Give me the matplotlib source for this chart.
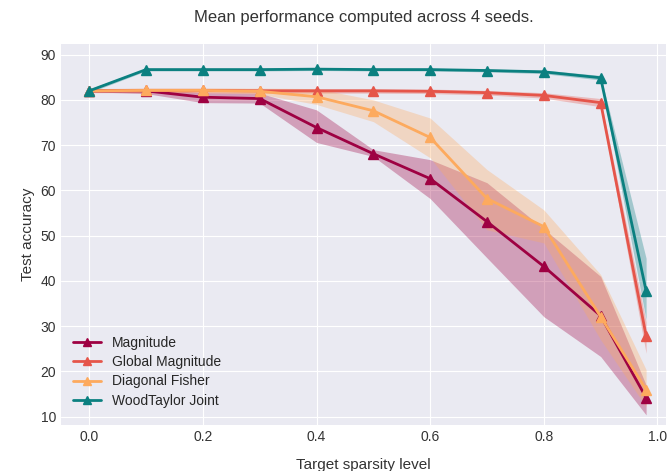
import matplotlib
matplotlib.use("Agg")
import matplotlib.pyplot as plt
import numpy as np

plt.style.use("seaborn-v0_8-darkgrid")
plt.rcParams["font.family"] = ["Liberation Sans", "DejaVu Sans"]

sparsity = [0.0, 0.1, 0.2, 0.3, 0.4, 0.5, 0.6, 0.7, 0.8, 0.9, 0.98]

# mean test accuracy, with min/max over seeds for the shaded bands
magnitude = [82.0, 82.0, 80.6, 80.3, 73.9, 68.1, 62.6, 53.1, 43.2, 32.3, 14.2]
magnitude_lo = [81.8, 81.4, 79.4, 79.3, 70.6, 67.5, 58.2, 45.1, 32.1, 23.3, 10.4]
magnitude_hi = [82.3, 82.5, 81.6, 81.5, 77.8, 69.0, 66.8, 61.7, 51.5, 41.0, 17.0]

global_mag = [82.0, 82.1, 82.1, 82.0, 82.0, 82.0, 81.9, 81.6, 81.0, 79.4, 27.9]
global_mag_lo = [81.6, 81.6, 81.6, 81.5, 81.5, 81.5, 81.4, 81.1, 80.4, 78.5, 24.0]
global_mag_hi = [82.5, 82.6, 82.6, 82.5, 82.5, 82.5, 82.4, 82.1, 81.6, 80.3, 31.0]

fisher = [82.0, 82.1, 82.1, 81.9, 80.7, 77.6, 71.7, 58.2, 52.0, 32.1, 16.0]
fisher_lo = [81.7, 81.6, 81.6, 81.3, 79.0, 75.2, 67.2, 51.3, 48.4, 27.0, 12.2]
fisher_hi = [82.4, 82.6, 82.6, 82.6, 82.5, 80.0, 76.0, 64.6, 55.7, 41.4, 20.4]

woodtaylor = [82.0, 86.7, 86.7, 86.7, 86.8, 86.7, 86.7, 86.5, 86.2, 84.9, 37.8]
woodtaylor_lo = [81.6, 86.4, 86.4, 86.4, 86.5, 86.4, 86.4, 86.2, 85.8, 84.4, 31.4]
woodtaylor_hi = [82.4, 87.0, 87.0, 87.0, 87.1, 87.0, 87.0, 86.8, 86.6, 85.4, 45.0]

names = ["Magnitude", "Global Magnitude", "Diagonal Fisher", "WoodTaylor Joint"]
colors = ["#9e0142", "#e5554a", "#fdaa5e", "#0b8080"]
series = [
    (magnitude, magnitude_lo, magnitude_hi),
    (global_mag, global_mag_lo, global_mag_hi),
    (fisher, fisher_lo, fisher_hi),
    (woodtaylor, woodtaylor_lo, woodtaylor_hi),
]

fig = plt.figure(figsize=(6.68, 4.71), dpi=100)
ax = fig.add_axes([0.091, 0.098, 0.906, 0.809])

for name, color, (mean, lo, hi) in zip(names, colors, series):
    ax.fill_between(sparsity, lo, hi, color=color, alpha=0.32, linewidth=0)
    ax.plot(sparsity, mean, color=color, marker="^", markersize=6.5,
            linewidth=2, label=name)

ax.set_xlim(-0.05, 1.015)
ax.set_ylim(8.2, 92.4)
ax.set_yticks(np.arange(10, 91, 10))
ax.tick_params(labelsize=10, colors="#333333")
ax.set_xlabel("Target sparsity level", fontsize=11, color="#333333", labelpad=10)
ax.set_ylabel("Test accuracy", fontsize=11, color="#333333")
ax.set_title("Mean performance computed across 4 seeds.", fontsize=12,
             color="#333333", pad=16)
ax.legend(loc="lower left", fontsize=10, frameon=False, markerscale=0.85,
          bbox_to_anchor=(0.0, 0.012), handlelength=2.0, labelspacing=0.38)

fig.savefig("out.png", dpi=100)
